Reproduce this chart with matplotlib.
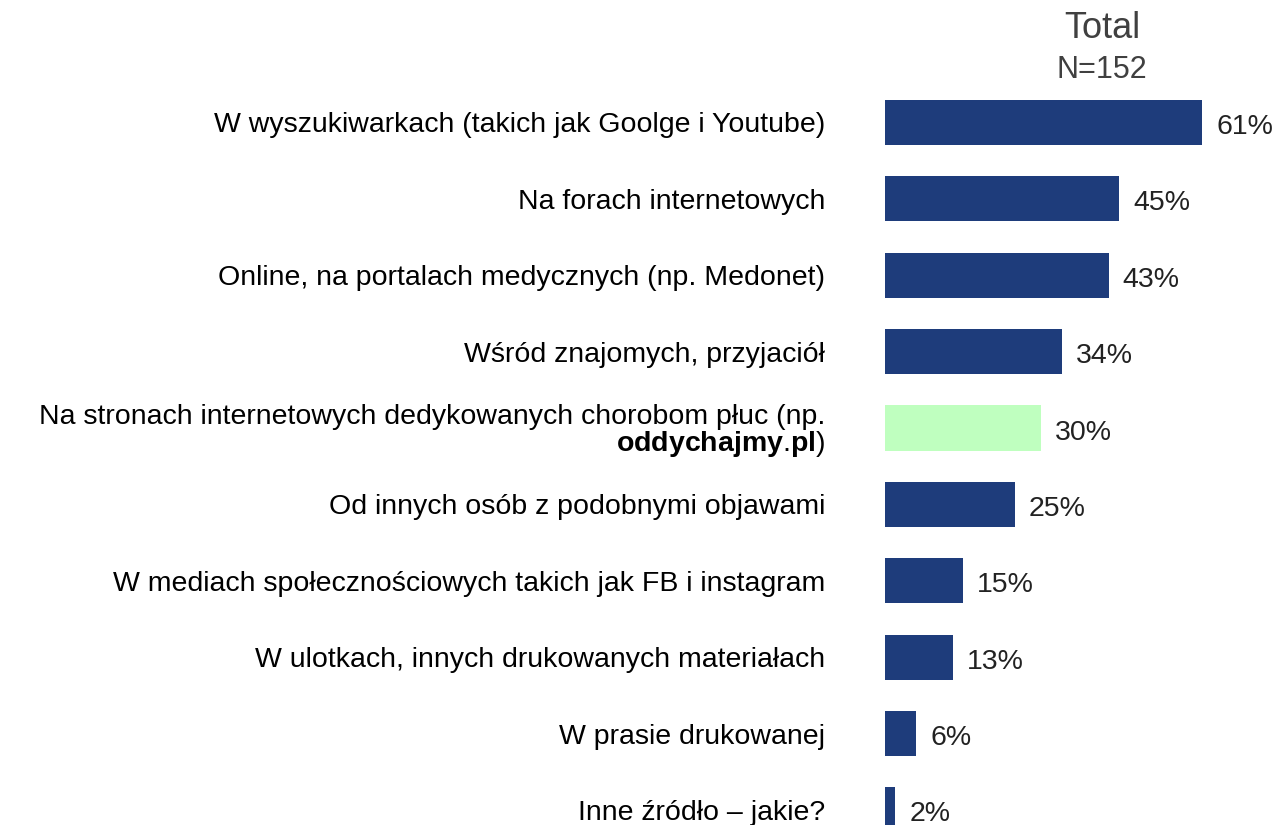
import matplotlib.pyplot as plt

plt.rcParams["font.family"] = ["Liberation Sans", "DejaVu Sans"]
plt.rcParams["mathtext.fontset"] = "custom"
plt.rcParams["mathtext.rm"] = "Liberation Sans"
plt.rcParams["mathtext.bf"] = "Liberation Sans:bold"

sources = [
    "W wyszukiwarkach (takich jak Goolge i Youtube)",
    "Na forach internetowych",
    "Online, na portalach medycznych (np. Medonet)",
    "Wśród znajomych, przyjaciół",
    "Na stronach internetowych dedykowanych chorobom płuc (np.\n"
    r"$\mathbf{oddychajmy}$.$\mathbf{pl}$)",
    "Od innych osób z podobnymi objawami",
    "W mediach społecznościowych takich jak FB i instagram",
    "W ulotkach, innych drukowanych materiałach",
    "W prasie drukowanej",
    "Inne źródło – jakie?",
]
shares = [61, 45, 43, 34, 30, 25, 15, 13, 6, 2]
highlight = 4

navy = "#1E3C7B"
mint = "#BFFFBF"

fig = plt.figure(figsize=(12.78, 8.25), dpi=100)
ax = fig.add_axes([885 / 1278, 0, 1 - 885 / 1278, 1])

rows = list(range(len(shares)))
colors = [mint if i == highlight else navy for i in rows]
ax.barh(rows, shares, height=0.59, color=colors)

# pixel-based limits: first row centred 122 px from the top, 76.4 px per row
row_px = 76.375
ax.set_ylim((825 - 122.5) / row_px, -122.5 / row_px)
ax.set_xlim(0, (1278 - 885) / 5.2)

for i, v in enumerate(shares):
    ax.text(v + 2.7, i + 0.02, f"{v}%", va="center_baseline", ha="left",
            fontsize=20.5, color="#222222")

ax.set_yticks(rows)
ax.set_yticklabels(sources, fontsize=20.5, color="black", linespacing=0.95)
ax.tick_params(axis="y", length=0, pad=43)
ax.set_xticks([])
for s in ax.spines.values():
    s.set_visible(False)

fig.text(1102 / 1278, 1 - 38 / 825, "Total", ha="center", va="baseline",
         fontsize=26, color="#404040")
fig.text(1102 / 1278, 1 - 78 / 825, "N=152", ha="center", va="baseline",
         fontsize=22, color="#404040")

fig.savefig("out.png", dpi=100)
